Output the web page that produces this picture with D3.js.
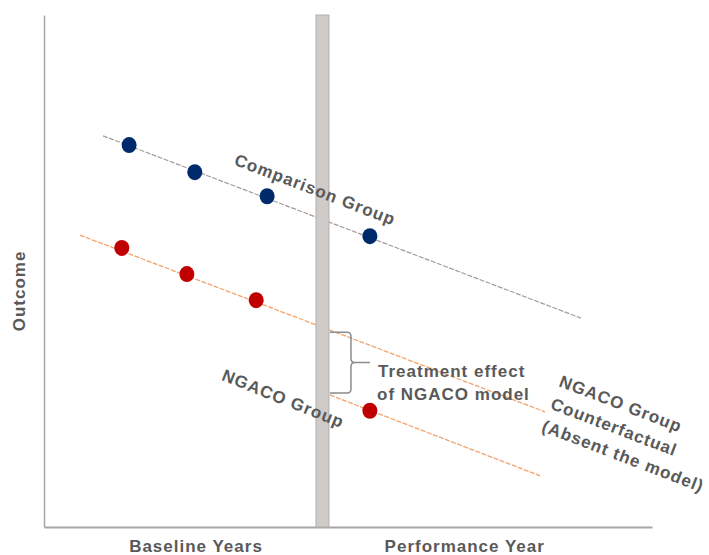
<!DOCTYPE html>
<html>
<head>
<meta charset="utf-8">
<script src="https://cdn.jsdelivr.net/npm/d3@7"></script>
<style>
  html, body { margin: 0; padding: 0; background: #fff; }
  svg { display: block; }
  text { font-family: "Liberation Sans", Arial, sans-serif; font-weight: bold; font-size: 17px; letter-spacing: 1px; fill: #595959; }
</style>
</head>
<body>
<svg id="chart" width="709" height="555"></svg>
<script>
// ---- data (abstract units: x = time, y = outcome) ----
const periodLabels = ["Baseline Years", "Performance Year"];
const periodLabelX = [2.5, 6.92];
const interventionX = 4.58;

const comparisonPoints = [
  { x: 1.40, y: 7.46 },
  { x: 2.48, y: 6.93 },
  { x: 3.67, y: 6.46 },
  { x: 5.36, y: 5.68 }
];
const ngacoPoints = [
  { x: 1.28, y: 5.45 },
  { x: 2.35, y: 4.94 },
  { x: 3.49, y: 4.43 },
  { x: 5.36, y: 2.27 }
];
const comparisonLine = [{ x: 0.97, y: 7.64 }, { x: 8.83, y: 4.08 }];
const counterfactualLine = [{ x: 0.59, y: 5.70 }, { x: 8.24, y: 2.25 }];
const ngacoPerformanceLine = [{ x: 4.70, y: 2.58 }, { x: 8.16, y: 1.00 }];

// ---- layout ----
const svg = d3.select("#chart");
const x = d3.scaleLinear().domain([0, 10]).range([44, 652]);
const y = d3.scaleLinear().domain([0, 10]).range([527, 15]);
const line = d3.line().x(d => x(d.x)).y(d => y(d.y));

// axes (domain lines only)
svg.append("g")
  .attr("transform", `translate(0,${y(0)})`)
  .call(d3.axisBottom(x).tickValues([]).tickSizeOuter(0))
  .call(g => g.select(".domain").attr("stroke", "#a6a6a6").attr("stroke-width", 2));
svg.append("g")
  .attr("transform", `translate(${x(0)},0)`)
  .call(d3.axisLeft(y).tickValues([]).tickSizeOuter(0))
  .call(g => g.select(".domain").attr("stroke", "#a6a6a6").attr("stroke-width", 1.5));

// trend lines
svg.append("path").datum(comparisonLine).attr("d", line)
  .attr("fill", "none").attr("stroke", "#a39d98").attr("stroke-width", 1.2)
  .attr("stroke-dasharray", "5,1.5");
svg.append("path").datum(counterfactualLine).attr("d", line)
  .attr("fill", "none").attr("stroke", "#f4a46c").attr("stroke-width", 1.3)
  .attr("stroke-dasharray", "5,1.5");
svg.append("path").datum(ngacoPerformanceLine).attr("d", line)
  .attr("fill", "none").attr("stroke", "#f4a46c").attr("stroke-width", 1.3)
  .attr("stroke-dasharray", "5,1.5");

// intervention bar
const barW = 13;
svg.append("rect")
  .attr("x", x(interventionX) - barW / 2).attr("y", y(10))
  .attr("width", barW).attr("height", y(0) - y(10))
  .attr("fill", "#cfcbc8").attr("stroke", "#b3afab").attr("stroke-width", 1);

// points
svg.selectAll(".cp").data(comparisonPoints).join("ellipse")
  .attr("cx", d => x(d.x)).attr("cy", d => y(d.y))
  .attr("rx", 7.5).attr("ry", 8).attr("fill", "#002a6c");
svg.selectAll(".np").data(ngacoPoints).join("ellipse")
  .attr("cx", d => x(d.x)).attr("cy", d => y(d.y))
  .attr("rx", 7.5).attr("ry", 8).attr("fill", "#c00000");

// brace between counterfactual and NGACO line at the bar's right edge
function yAt(seg, xv) {
  const [a, b] = seg;
  return a.y + (b.y - a.y) * (xv - a.x) / (b.x - a.x);
}
const bx0 = x(interventionX) + barW / 2 + 1;
const topY = y(yAt(counterfactualLine, x.invert(bx0))) + 2;
const botY = y(yAt(ngacoPerformanceLine, x.invert(bx0))) - 2;
const midY = (topY + botY) / 2;
const bx1 = bx0 + 21, r = 4, tip = bx1 + 19;
svg.append("path")
  .attr("d", `M${bx0},${topY} H${bx1 - r} Q${bx1},${topY} ${bx1},${topY + r} V${midY - r} Q${bx1},${midY} ${bx1 + r},${midY} H${tip}
              M${bx1 + r},${midY} Q${bx1},${midY} ${bx1},${midY + r} V${botY - r} Q${bx1},${botY} ${bx1 - r},${botY} H${bx0}`)
  .attr("fill", "none").attr("stroke", "#8c8c8c").attr("stroke-width", 1.5);

// period labels
svg.selectAll(".pl").data(periodLabels).join("text")
  .attr("x", (d, i) => x(periodLabelX[i])).attr("y", 552)
  .attr("text-anchor", "middle").text(d => d);

// y label
svg.append("text").attr("transform", "translate(25,291) rotate(-90)")
  .attr("text-anchor", "middle").text("Outcome");

// annotations
svg.append("text").attr("transform", "translate(313,195) rotate(21)")
  .attr("text-anchor", "middle").text("Comparison Group");
svg.append("text").attr("transform", "translate(281,404) rotate(22)")
  .attr("text-anchor", "middle").text("NGACO Group");

const te = svg.append("text").attr("x", 378).attr("y", 377);
te.append("tspan").attr("x", 378).text("Treatment effect");
te.append("tspan").attr("x", 377).attr("dy", 23).text("of NGACO model");

const cf = svg.append("text").attr("transform", "translate(558,386) rotate(21)");
["NGACO Group", "Counterfactual", "(Absent the model)"].forEach((t, i) => {
  cf.append("tspan").attr("x", 0).attr("dy", i === 0 ? 0 : 24).text(t);
});
</script>
</body>
</html>
